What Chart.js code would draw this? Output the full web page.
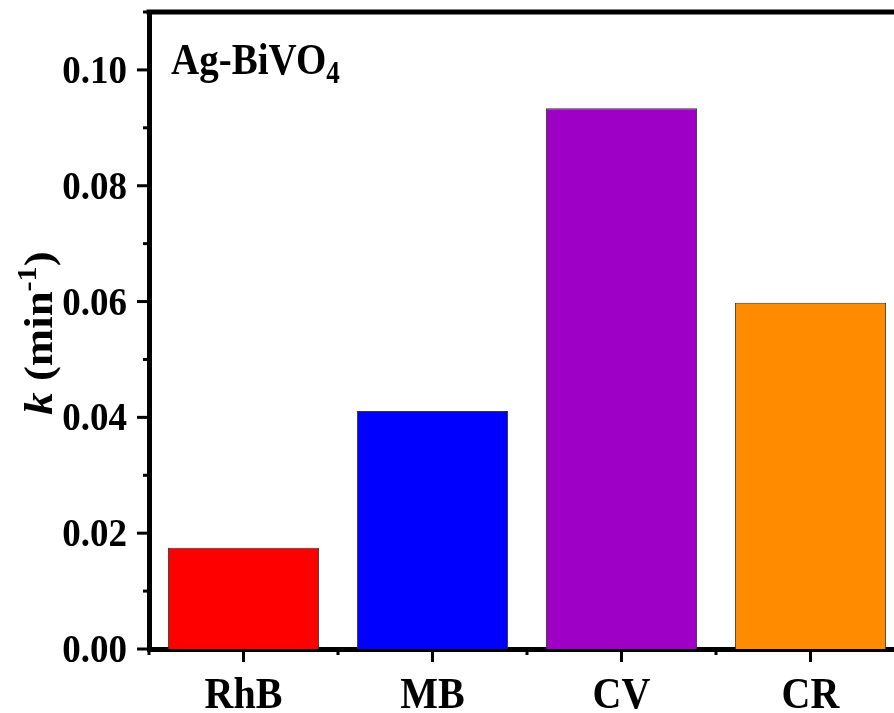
<!DOCTYPE html>
<html lang="en">
<head>
  <meta charset="UTF-8" />
  <title>Ag-BiVO4 rate constants</title>
  <script src="https://cdn.jsdelivr.net/npm/chart.js"></script>
  <style>
    html, body { margin: 0; padding: 0; background: #fff; overflow: hidden; }
    #wrap { width: 910px; height: 713px; }
  </style>
</head>
<body>
  <div id="wrap"><canvas id="grafico" width="910" height="713"></canvas></div>
  <script>
    // data
    const dyes = ['RhB', 'MB', 'CV', 'CR'];
    const rateK = [0.0175, 0.0411, 0.0934, 0.0598];
    const barColors = ['#FF0000', '#0000FF', '#9F00C6', '#FF8C00'];
    const yMin = 0, yMax = 0.11, yStep = 0.01;

    const serif = '"Liberation Serif", "Times New Roman", serif';
    const stretch = 1.12; // the original text is a bit taller than wide

    const isMajor = v => Math.round(v * 100) % 2 === 0;

    // outward ticks, tick labels, top frame line, axis title and sample label
    const decor = {
      id: 'decor',
      afterDraw(chart) {
        const ctx = chart.ctx;
        const area = chart.chartArea;
        const x = chart.scales.x, y = chart.scales.y;
        ctx.save();
        ctx.strokeStyle = '#000';
        ctx.fillStyle = '#000';
        ctx.lineWidth = 3;

        // y ticks + labels
        ctx.font = 'bold 37px ' + serif;
        ctx.textAlign = 'right';
        ctx.textBaseline = 'alphabetic';
        y.ticks.forEach(t => {
          const py = y.getPixelForValue(t.value);
          const major = isMajor(t.value);
          ctx.beginPath();
          ctx.moveTo(area.left - 2, py);
          ctx.lineTo(area.left - (major ? 12 : 6), py);
          ctx.stroke();
          if (major) {
            ctx.save();
            ctx.translate(127, py + 13);
            ctx.scale(1, 1.08);
            ctx.fillText(t.value.toFixed(2), 0, 0);
            ctx.restore();
          }
        });

        // x ticks: major at centres, minor at category edges
        const w = x.getPixelForValue(1) - x.getPixelForValue(0);
        ctx.font = 'bold 40px ' + serif;
        ctx.textAlign = 'center';
        dyes.forEach((d, i) => {
          const px = x.getPixelForValue(i);
          ctx.beginPath();
          ctx.moveTo(px, area.bottom + 2);
          ctx.lineTo(px, area.bottom + 13);
          ctx.stroke();
          ctx.save();
          ctx.translate(px, 708);
          ctx.scale(1, stretch);
          ctx.fillText(d, 0, 0);
          ctx.restore();
        });
        for (let i = 0; i <= dyes.length; i++) {
          const px = x.getPixelForValue(0) - w / 2 + i * w;
          ctx.beginPath();
          ctx.moveTo(px, area.bottom + 2);
          ctx.lineTo(px, area.bottom + 6);
          ctx.stroke();
        }

        // top frame
        ctx.lineWidth = 5;
        ctx.beginPath();
        ctx.moveTo(area.left - 2.5, area.top);
        ctx.lineTo(chart.width, area.top);
        ctx.stroke();

        // sample label
        ctx.textAlign = 'left';
        ctx.save();
        ctx.translate(171, 74);
        ctx.scale(1, 1.13);
        ctx.font = 'bold 39px ' + serif;
        const main = 'Ag-BiVO';
        ctx.fillText(main, 0, 0);
        const mw = ctx.measureText(main).width;
        ctx.font = 'bold 27px ' + serif;
        ctx.fillText('4', mw, 8);
        ctx.restore();

        // y axis title: k (min-1)
        const parts = [
          { t: 'k', f: 'italic bold 40px ' + serif, dy: 0 },
          { t: ' (min', f: 'bold 40px ' + serif, dy: 0 },
          { t: '-1', f: 'bold 27px ' + serif, dy: -16 },
          { t: ')', f: 'bold 40px ' + serif, dy: 0 }
        ];
        let total = 0;
        parts.forEach(p => { ctx.font = p.f; p.w = ctx.measureText(p.t).width; total += p.w; });
        ctx.translate(52, 333);
        ctx.rotate(-Math.PI / 2);
        ctx.scale(stretch, 1);
        let cx = -total / 2;
        parts.forEach(p => {
          ctx.font = p.f;
          ctx.fillText(p.t, cx, p.dy);
          cx += p.w;
        });
        ctx.restore();
      }
    };

    new Chart(document.getElementById('grafico'), {
      type: 'bar',
      data: {
        labels: dyes,
        datasets: [{
          data: rateK,
          backgroundColor: barColors,
          borderColor: '#333',
          borderWidth: 1,
          barPercentage: 0.8,
          categoryPercentage: 1.0
        }]
      },
      options: {
        responsive: false,
        animation: false,
        layout: { padding: { top: 12, right: 5, left: 0, bottom: 0 } },
        plugins: { legend: { display: false }, tooltip: { enabled: false } },
        scales: {
          x: {
            offset: true,
            grid: { display: false },
            border: { display: true, color: '#000', width: 5 },
            ticks: { display: false },
            afterFit(s) { s.height = 64; s.paddingLeft = 0; s.paddingRight = 0; }
          },
          y: {
            min: yMin,
            max: yMax,
            grid: { display: false },
            border: { display: true, color: '#000', width: 5 },
            ticks: { display: false, stepSize: yStep, autoSkip: false },
            afterFit(s) { s.width = 149; s.paddingTop = 0; s.paddingBottom = 0; }
          }
        }
      },
      plugins: [decor]
    });
  </script>
</body>
</html>
